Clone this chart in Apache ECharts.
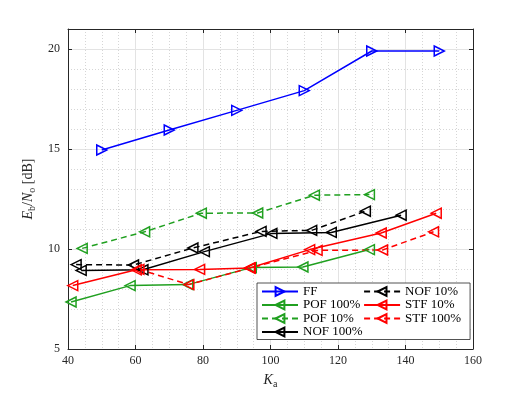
<!DOCTYPE html>
<html>
<head>
<meta charset="utf-8">
<script src="https://cdn.jsdelivr.net/npm/echarts@6/dist/echarts.min.js"></script>
<style>
  html, body { margin: 0; padding: 0; background: #fff; }
  #chart { width: 525px; height: 394px; }
</style>
</head>
<body>
<div id="chart"></div>
<script>
// 数据
const xTicks = [40, 60, 80, 100, 120, 140, 160];
const yTicks = [5, 10, 15, 20];

const ffX = [50, 70, 90, 110, 130, 150];
const ffY = [14.95, 15.95, 16.93, 17.92, 19.9, 19.9];
const pof100X = [40.9, 58.4, 75.5, 94.3, 109.6, 129.3];
const pof100Y = [7.35, 8.17, 8.22, 9.07, 9.1, 9.97];
const pof10X = [44.2, 62.7, 79.5, 96.2, 113, 129.3];
const pof10Y = [10.03, 10.86, 11.79, 11.8, 12.69, 12.72];
const nof100X = [43.9, 62.2, 80.4, 100.4, 118, 138.7];
const nof100Y = [8.93, 8.96, 9.87, 10.78, 10.83, 11.69];
const nof10X = [42.4, 59.4, 77, 97.2, 112.2, 128.1];
const nof10Y = [9.22, 9.2, 10.05, 10.88, 10.93, 11.89];
const stf10X = [41.4, 60.2, 79, 93.8, 111.6, 132.8, 149.1];
const stf10Y = [8.17, 8.96, 8.98, 9.05, 9.97, 10.8, 11.79];
const stf100X = [61, 75.8, 94, 113.8, 133.2, 148.3];
const stf100Y = [8.98, 8.22, 9.05, 9.93, 9.95, 10.86];

const C = { blue: '#0000ff', green: '#20a020', red: '#ff0000', black: '#000000', axis: '#262626' };
const FONT = '"Liberation Serif", "DejaVu Serif", serif';

function zip(xs, ys) { return xs.map((x, i) => [x, ys[i]]); }

function makeSeries(name, xs, ys, color, dashed, rotate) {
    return {
        name: name,
        type: 'line',
        data: zip(xs, ys),
        symbol: 'triangle',
        symbolSize: 10,
        symbolRotate: rotate,
        showAllSymbol: true,
        lineStyle: { color: color, width: 1.5, type: dashed ? [6, 4] : 'solid' },
        itemStyle: { color: 'rgba(255,255,255,0)', borderColor: color, borderWidth: 1.5 },
        emphasis: { disabled: true },
        animation: false,
    };
}

const seriesList = [
    makeSeries('FF', ffX, ffY, C.blue, false, -90),
    makeSeries('POF 100%', pof100X, pof100Y, C.green, false, 90),
    makeSeries('POF 10%', pof10X, pof10Y, C.green, true, 90),
    makeSeries('NOF 100%', nof100X, nof100Y, C.black, false, 90),
    makeSeries('NOF 10%', nof10X, nof10Y, C.black, true, 90),
    makeSeries('STF 10%', stf10X, stf10Y, C.red, false, 90),
    makeSeries('STF 100%', stf100X, stf100Y, C.red, true, 90),
];

const gridLine = { show: true, lineStyle: { color: '#e3e3e3', width: 1 } };
const minorLine = { show: true, lineStyle: { color: '#d6d6d6', width: 1, type: [1, 2] } };

const chart = echarts.init(document.getElementById('chart'), null, { renderer: 'canvas' });
chart.setOption({
    animation: false,
    backgroundColor: '#fff',
    textStyle: { fontFamily: FONT },
    grid: { left: 68, top: 29, width: 405, height: 322 },
    legend: {
        orient: 'vertical',
        left: 257,
        top: 283,
        height: 62,
        padding: [2, 9, 1, 4],
        itemGap: 0.5,
        itemWidth: 36,
        itemHeight: 11,
        backgroundColor: '#fff',
        borderColor: '#262626',
        borderWidth: 0.8,
        borderRadius: 0,
        textStyle: { fontFamily: FONT, fontSize: 13, color: '#000', width: 65 },
        data: seriesList.map(s => s.name),
    },
    xAxis: [{
        type: 'value',
        min: xTicks[0],
        max: xTicks[xTicks.length - 1],
        interval: 20,
        name: '{i|K}{s|a}',
        nameLocation: 'middle',
        nameGap: 22,
        nameTextStyle: {
            fontFamily: FONT, fontSize: 14, color: C.axis,
            rich: {
                i: { fontFamily: FONT, fontSize: 14, fontStyle: 'italic', color: C.axis },
                s: { fontFamily: FONT, fontSize: 10, color: C.axis, padding: [8, 0, 0, 0] },
            },
        },
        axisLine: { show: true, onZero: false, lineStyle: { color: C.axis } },
        axisTick: { inside: true, length: 4, lineStyle: { color: C.axis } },
        axisLabel: { color: C.axis, fontSize: 12, fontFamily: FONT, margin: 6 },
        splitLine: gridLine,
        minorTick: { show: false, splitNumber: 4 },
        minorSplitLine: minorLine,
    }, {
        type: 'value',
        position: 'top',
        min: xTicks[0],
        max: xTicks[xTicks.length - 1],
        interval: 20,
        axisLine: { show: true, onZero: false, lineStyle: { color: C.axis } },
        axisTick: { inside: true, length: 4, lineStyle: { color: C.axis } },
        axisLabel: { show: false },
        splitLine: { show: false },
    }],
    yAxis: [{
        type: 'value',
        min: yTicks[0],
        max: 21,
        interval: 5,
        name: '{i|E}{s|b}{n|/}{i|N}{s|o}{n| [dB]}',
        nameLocation: 'middle',
        nameGap: 26,
        nameRotate: 90,
        nameTextStyle: {
            fontFamily: FONT, fontSize: 14, color: C.axis,
            rich: {
                i: { fontFamily: FONT, fontSize: 14, fontStyle: 'italic', color: C.axis },
                n: { fontFamily: FONT, fontSize: 14, color: C.axis },
                s: { fontFamily: FONT, fontSize: 10, color: C.axis, padding: [8, 0, 0, 0] },
            },
        },
        axisLine: { show: true, onZero: false, lineStyle: { color: C.axis } },
        axisTick: { inside: true, length: 4, lineStyle: { color: C.axis } },
        axisLabel: { color: C.axis, fontSize: 12, fontFamily: FONT, margin: 8, showMaxLabel: false },
        splitLine: gridLine,
        minorTick: { show: false, splitNumber: 5 },
        minorSplitLine: minorLine,
    }, {
        type: 'value',
        position: 'right',
        min: yTicks[0],
        max: 21,
        interval: 5,
        axisLine: { show: true, onZero: false, lineStyle: { color: C.axis } },
        axisTick: { inside: true, length: 4, lineStyle: { color: C.axis } },
        axisLabel: { show: false },
        splitLine: { show: false },
    }],
    series: seriesList,
});
</script>
</body>
</html>
